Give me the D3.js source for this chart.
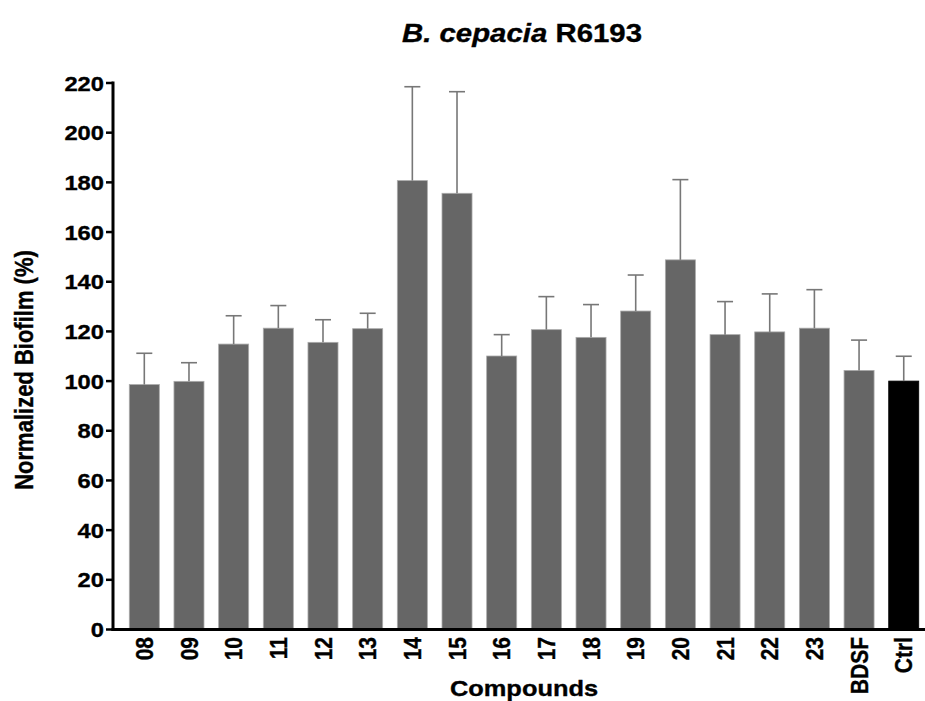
<!DOCTYPE html>
<html><head><meta charset="utf-8">
<script src="https://cdn.jsdelivr.net/npm/d3@7/dist/d3.min.js"></script>
<style>body{margin:0;background:#fff}svg{display:block}text{font-family:"Liberation Sans",Arial,sans-serif;font-weight:bold;fill:#000;stroke:#000;stroke-width:0.35px}</style>
</head><body>
<svg id="c" width="925" height="701"></svg>
<script>
const categories = ["08","09","10","11","12","13","14","15","16","17","18","19","20","21","22","23","BDSF","Ctrl"];
const means = [98.6,99.9,114.9,121.3,115.6,121.1,180.7,175.6,110.1,120.7,117.6,128.2,148.8,118.7,119.8,121.3,104.3,100.0];
const upper = [111.2,107.4,126.3,130.4,124.7,127.3,218.5,216.5,118.7,134.0,130.8,142.7,181.1,132.0,135.1,136.8,116.5,110.0];
const yTicks = [0,20,40,60,80,100,120,140,160,180,200,220];

const SX = 1.13;
const svg = d3.select("#c");
const x = d3.scaleBand().domain(categories).range([121.97, 926.07]).paddingInner(0.328).paddingOuter(0.164);
const y = d3.scaleLinear().domain([0,220]).range([629.5, 83]);

// bars
svg.append("g").selectAll("rect").data(categories).join("rect")
  .attr("x", d => x(d)).attr("width", x.bandwidth())
  .attr("y", (d,i) => y(means[i])).attr("height", (d,i) => y(0) - y(means[i]))
  .attr("fill", d => d === "Ctrl" ? "#000" : "#666")
  .attr("stroke", d => d === "Ctrl" ? "#000" : "#aaa").attr("stroke-width", 0.8);

// error bars
const eg = svg.append("g").attr("stroke", "#777").attr("stroke-width", 1.6);
categories.forEach((c,i) => {
  const cx = x(c) + x.bandwidth()/2;
  eg.append("line").attr("x1", cx).attr("x2", cx).attr("y1", y(means[i])).attr("y2", y(upper[i]));
  eg.append("line").attr("x1", cx-8).attr("x2", cx+8).attr("y1", y(upper[i])).attr("y2", y(upper[i]));
});

// y axis
const ya = svg.append("g");
ya.append("line").attr("x1",113).attr("x2",113).attr("y1",y(220)-1.5).attr("y2",y(0)+1.5).attr("stroke","#000").attr("stroke-width",3);
yTicks.forEach(t => {
  ya.append("line").attr("x1",106).attr("x2",113).attr("y1",y(t)).attr("y2",y(t)).attr("stroke","#000").attr("stroke-width",2.5);
  ya.append("text").attr("transform",`translate(104,${y(t)}) scale(${SX},1)`)
    .attr("text-anchor","end").attr("dy","0.36em").attr("font-size",21).text(t);
});
// x axis
svg.append("line").attr("x1",111.5).attr("x2",925).attr("y1",y(0)).attr("y2",y(0)).attr("stroke","#000").attr("stroke-width",3);
categories.forEach(c => {
  const cx = x(c) + x.bandwidth()/2;
  svg.append("text").attr("transform",`translate(${cx},637) scale(${SX},1) rotate(-90)`)
    .attr("text-anchor","end").attr("dy","0.36em").attr("font-size",21).text(c);
});

// titles
const t = svg.append("text").attr("transform",`translate(522,42) scale(${SX},1)`).attr("text-anchor","middle").attr("font-size",26);
t.append("tspan").attr("font-style","italic").text("B. cepacia");
t.append("tspan").text(" R6193");
svg.append("text").attr("transform",`translate(524,696) scale(${SX},1)`).attr("text-anchor","middle").attr("font-size",22.5).text("Compounds");
svg.append("text").attr("transform",`translate(33,370) scale(${SX},1) rotate(-90)`).attr("text-anchor","middle").attr("font-size",22).text("Normalized Biofilm (%)");
</script>
</body></html>
